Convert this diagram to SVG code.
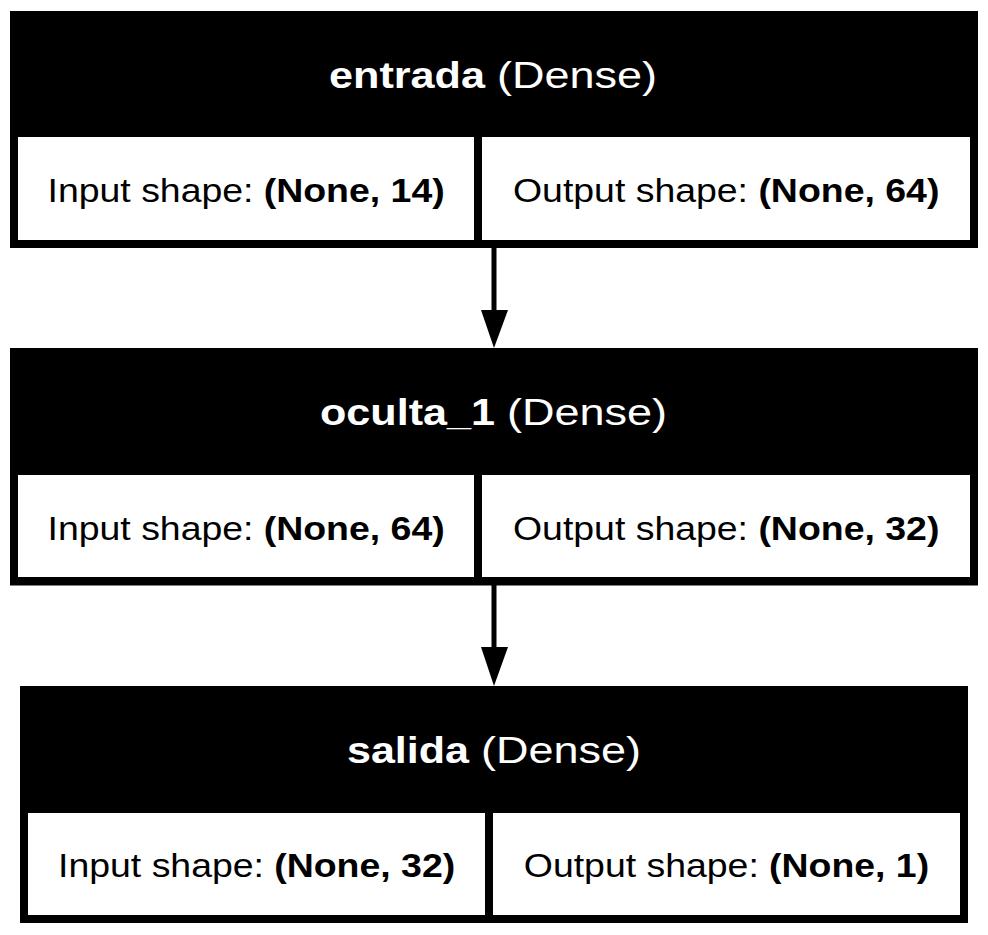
<svg xmlns="http://www.w3.org/2000/svg" width="988" height="935" viewBox="0 0 988 935">
<defs>
<style>
.box{fill:#000}
.cell{fill:#fff}
.t{font-family:"Liberation Sans",Arial,sans-serif;font-size:36px;fill:#fff}
.c{font-family:"Liberation Sans",Arial,sans-serif;font-size:34px;fill:#000}
.b{font-weight:bold}
.edge{stroke:#000;stroke-width:5;fill:none}
.head{fill:#000}
</style>
</defs>
<rect width="988" height="935" fill="#fff"/>
<g id="entrada">
<rect class="box" x="10" y="11" width="968" height="237"/>
<rect class="cell" x="18" y="137" width="456" height="103"/>
<rect class="cell" x="482" y="137" width="488" height="103"/>
<text class="t b" x="329" y="88" textLength="156" lengthAdjust="spacingAndGlyphs">entrada</text>
<text class="t" x="497" y="88" textLength="160" lengthAdjust="spacingAndGlyphs">(Dense)</text>
<text class="c" x="47.5" y="202" textLength="206" lengthAdjust="spacingAndGlyphs">Input shape:</text>
<text class="c b" x="263.7" y="202" textLength="181" lengthAdjust="spacingAndGlyphs">(None, 14)</text>
<text class="c" x="513" y="202" textLength="235" lengthAdjust="spacingAndGlyphs">Output shape:</text>
<text class="c b" x="758.4" y="202" textLength="181" lengthAdjust="spacingAndGlyphs">(None, 64)</text>
</g>
<g id="oculta_1">
<rect class="box" x="10" y="348" width="968" height="237.5"/>
<rect class="cell" x="18" y="475" width="456" height="102"/>
<rect class="cell" x="482" y="475" width="488" height="102"/>
<text class="t b" x="320" y="425" textLength="175" lengthAdjust="spacingAndGlyphs">oculta_1</text>
<text class="t" x="507" y="425" textLength="160" lengthAdjust="spacingAndGlyphs">(Dense)</text>
<text class="c" x="47.5" y="540" textLength="206" lengthAdjust="spacingAndGlyphs">Input shape:</text>
<text class="c b" x="263.7" y="540" textLength="181" lengthAdjust="spacingAndGlyphs">(None, 64)</text>
<text class="c" x="513" y="540" textLength="235" lengthAdjust="spacingAndGlyphs">Output shape:</text>
<text class="c b" x="758.4" y="540" textLength="181" lengthAdjust="spacingAndGlyphs">(None, 32)</text>
</g>
<g id="salida">
<rect class="box" x="20" y="686" width="948" height="237"/>
<rect class="cell" x="28" y="813" width="457" height="102"/>
<rect class="cell" x="493" y="813" width="467" height="102"/>
<text class="t b" x="347" y="763" textLength="122" lengthAdjust="spacingAndGlyphs">salida</text>
<text class="t" x="481" y="763" textLength="160" lengthAdjust="spacingAndGlyphs">(Dense)</text>
<text class="c" x="58" y="877" textLength="206" lengthAdjust="spacingAndGlyphs">Input shape:</text>
<text class="c b" x="274.2" y="877" textLength="181" lengthAdjust="spacingAndGlyphs">(None, 32)</text>
<text class="c" x="523.8" y="877" textLength="235" lengthAdjust="spacingAndGlyphs">Output shape:</text>
<text class="c b" x="769.1" y="877" textLength="160" lengthAdjust="spacingAndGlyphs">(None, 1)</text>
</g>
<g id="connectors">
<line class="edge" x1="494" y1="248" x2="494" y2="312"/>
<polygon class="head" points="481,310 508,310 494,348"/>
<line class="edge" x1="494" y1="585" x2="494" y2="649"/>
<polygon class="head" points="481,647 508,647 494,686"/>
</g>
</svg>
